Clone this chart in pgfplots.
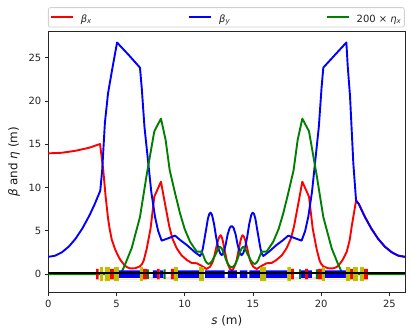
\documentclass[border=0pt]{standalone}
\usepackage{pgfplots}
\pgfplotsset{compat=1.18}
\usepackage{fontspec}
\setmainfont{DejaVu Sans}
\newcommand{\sub}[1]{\raisebox{-1.5bp}{\fontsize{7}{7}\selectfont\textit{#1}}}
\begin{document}
\begin{tikzpicture}[x=1bp,y=1bp]
\useasboundingbox (0,0) rectangle (412,335);
\begin{axis}[
  at={(48.3bp,42.3bp)}, anchor=south west, scale only axis,
  width=357bp, height=261.7bp,
  xmin=0, xmax=26.17, ymin=-2.14, ymax=28.08,
  xtick={0,5,10,15,20,25}, ytick={0,5,10,15,20,25},
  tick align=outside, tick style={black!85,line width=0.8bp}, tick pos=left,
  major tick length=3.5bp,
  axis line style={black!85,line width=0.9bp},
  /pgf/number format/assume math mode=true,
  ticklabel style={font=\fontsize{10}{12}\selectfont, text=black!85},
  xticklabel style={yshift=-0.5bp},
  xlabel={\textit{s} (m)}, ylabel={\textit{β} and \textit{η} (m)},
  label style={font=\fontsize{12}{14}\selectfont, text=black!90},
  xlabel style={at={(axis description cs:0.5,-0.075)},anchor=north},
  ylabel style={at={(axis description cs:-0.096,0.5)},anchor=center},
  legend style={at={(0bp,261.7bp)}, anchor=south west, yshift=3.5bp, xshift=-0.3bp,
    draw=black!18, rounded corners=2bp, fill=white, line width=0.8bp,
    inner xsep=1.5bp, inner ysep=1.5bp,
    font=\fontsize{10}{12}\selectfont, text=black!85,
    legend columns=3, legend cell align=left,
    /tikz/column 2/.style={column sep=95bp},
    /tikz/column 4/.style={column sep=94bp}},
  legend image code/.code={\draw[#1,line width=1.9bp] (0bp,0bp) -- (22bp,0bp);},
]
\addplot[red,line width=1.9bp,line join=round] coordinates {
(0,13.95)(1,14.02)(2,14.25)(3,14.6)(3.79,15.03)(3.9,13.7)(4.03,12)(4.2,9)(4.38,6.45)(4.5,5.2)(4.65,4.0)(4.89,2.9)(5.06,2.3)(5.26,1.7)(5.6,1.0)(5.8,.78)(5.99,.68)(6.2,.66)(6.4,.7)(6.72,.9)(6.88,1.2)(7.0,1.6)(7.21,2.9)(7.5,5.3)(7.77,8.95)(8.26,10.68)(8.5,8.6)(8.87,5.5)(9.1,4.1)(9.41,3)(9.75,2.2)(10.15,1.64)(10.5,1.3)(10.88,1.26)(11.25,.95)(11.6,.6)(11.85,.85)(12.0,1.25)(12.1,1.64)(12.2,2.3)(12.3,3)(12.45,3.95)(12.55,4.35)(12.64,4.5)(12.72,4.25)(12.8,3.8)(12.95,2.6)(13.08,1.6)(13.2,1.0)(13.32,.6)(13.44,.45)
(13.56,.6)(13.68,1.0)(13.8,1.6)(13.93,2.6)(14.08,3.8)(14.16,4.25)(14.24,4.5)(14.33,4.35)(14.43,3.95)(14.58,3)(14.68,2.3)(14.78,1.64)(14.88,1.25)(15.03,.85)(15.28,.6)(15.63,.95)(16.0,1.26)(16.38,1.3)(16.73,1.64)(17.13,2.2)(17.47,3)(17.78,4.1)(18.01,5.5)(18.38,8.6)(18.62,10.68)(19.11,8.95)(19.38,5.3)(19.67,2.9)(19.88,1.6)(20.0,1.2)(20.16,.9)(20.48,.7)(20.68,.66)(20.89,.68)(21.08,.78)(21.28,1.0)(21.6,1.7)(21.88,2.6)(22.1,4)(22.24,5.5)(22.4,7)(22.56,8.5)(22.77,8.08)(23.17,6.73)(23.67,5.29)(24.17,4.1)(24.67,3.18)(25.17,2.53)(25.67,2.13)(26.17,2.0)};
\addlegendentry{\kern5bp\rule[-5bp]{0pt}{16bp}\textit{β}\sub{x}}
\addplot[blue,line width=1.9bp,line join=round] coordinates {
(0,2)(0.5,2.13)(1,2.53)(1.5,3.18)(2,4.1)(2.5,5.29)(3,6.73)(3.4,8.08)(3.81,9.64)(3.95,12)(4.15,17.5)(4.38,20.9)(4.7,23.8)(5.04,26.75)(5.9,25.3)(6.72,23.85)(6.85,21.5)(7.05,17)(7.33,12.8)(7.55,9.5)(7.82,6.64)(8.05,5.0)(8.31,3.87)(8.8,4.15)(9.29,4.45)(9.7,3.9)(10.15,3.37)(10.7,2.6)(11.12,2.1)(11.22,2.35)(11.32,2.9)(11.42,3.8)(11.55,5)(11.7,6.4)(11.8,6.95)(11.9,7.1)(12.0,6.85)(12.15,5.8)(12.3,4.3)(12.46,3)(12.6,2.4)(12.71,2.2)(12.8,2.35)(12.9,2.8)(13.0,3.4)(13.15,4.6)(13.3,5.35)(13.44,5.57)
(13.58,5.35)(13.73,4.6)(13.88,3.4)(13.98,2.8)(14.08,2.35)(14.17,2.2)(14.28,2.4)(14.42,3)(14.58,4.3)(14.73,5.8)(14.88,6.85)(14.98,7.1)(15.08,6.95)(15.18,6.4)(15.33,5)(15.46,3.8)(15.56,2.9)(15.66,2.35)(15.76,2.1)(16.18,2.6)(16.73,3.37)(17.18,3.9)(17.59,4.45)(18.08,4.15)(18.57,3.87)(18.83,5)(19.06,6.64)(19.33,9.5)(19.55,12.8)(19.83,17)(20.03,21.5)(20.16,23.85)(21.0,25.3)(21.85,26.75)(21.95,24)(22.12,20.5)(22.36,12.8)(22.56,8.5)(22.77,8.08)(23.17,6.73)(23.67,5.29)(24.17,4.1)(24.67,3.18)(25.17,2.53)(25.67,2.13)(26.17,2.0)};
\addlegendentry{\kern5bp\rule[-5bp]{0pt}{16bp}\textit{β}\sub{y}}
\addplot[black!50!green,line width=1.9bp,line join=round] coordinates {
(0,0)(5.2,0)(5.35,.2)(5.6,1)(6.11,3)(6.72,6.6)(7.21,11.45)(7.77,16.5)(8.26,17.96)(8.6,15.5)(8.9,12)(9.3,9.3)(9.66,7)(10,5.2)(10.39,3.75)(10.88,2.6)(11.25,2.6)(11.4,2.0)(11.5,1.6)(11.6,1.35)(11.73,1.18)(11.85,1.25)(12.0,1.5)(12.3,2.4)(12.45,2.95)(12.59,3.17)(12.72,2.95)(12.85,2.5)(13.0,1.8)(13.15,1.2)(13.3,.9)(13.44,.8)
(13.58,.9)(13.73,1.2)(13.88,1.8)(14.03,2.5)(14.16,2.95)(14.29,3.17)(14.43,2.95)(14.58,2.4)(14.88,1.5)(15.03,1.25)(15.15,1.18)(15.28,1.35)(15.38,1.6)(15.48,2.0)(15.63,2.6)(16.0,2.6)(16.49,3.75)(16.88,5.2)(17.22,7)(17.58,9.3)(17.98,12)(18.28,15.5)(18.62,17.96)(19.11,16.5)(19.67,11.45)(20.16,6.6)(20.77,3)(21.28,1)(21.53,.2)(21.68,0)(26.17,0)};
\addlegendentry{\kern5bp\rule[-5bp]{0pt}{16bp}200 × \textit{η}\sub{x}}
% blue magnets
\addplot[forget plot,draw=none,fill={rgb,1:red,0;green,0;blue,1}] coordinates {
(5.18,-.44)(5.18,.44)(6.72,.44)(6.72,-.44)
(7.67,-.44)(7.67,.44)(7.97,.44)(7.97,-.44)
(8.16,-.44)(8.16,.44)(8.43,.44)(8.43,-.44)
(9.5,-.44)(9.5,.44)(11.05,.44)(11.05,-.44)
(11.49,-.44)(11.49,.44)(12.93,.44)(12.93,-.44)
(13.17,-.44)(13.17,.44)(13.83,.44)(13.83,-.44)
(14.05,-.44)(14.05,.44)(14.59,.44)(14.59,-.44)
(14.74,-.44)(14.74,.44)(15.52,.44)(15.52,-.44)
(15.96,-.44)(15.96,.44)(17.52,.44)(17.52,-.44)
(18.52,-.44)(18.52,.44)(18.82,.44)(18.82,-.44)
(19.04,-.44)(19.04,.44)(19.33,.44)(19.33,-.44)
(20.28,-.44)(20.28,.44)(21.82,.44)(21.82,-.44)} --cycle;
% red magnets
\addplot[forget plot,draw=none,fill=red] coordinates {
(3.5,-.6)(3.5,.6)(3.69,.6)(3.69,-.6)
(4.52,-.6)(4.52,.6)(4.81,.6)(4.81,-.6)
(6.94,-.6)(6.94,.6)(7.23,.6)(7.23,-.6)
(7.97,-.6)(7.97,.6)(8.16,.6)(8.16,-.6)
(8.99,-.6)(8.99,.6)(9.21,.6)(9.21,-.6)
(17.79,-.6)(17.79,.6)(18.01,.6)(18.01,-.6)
(18.82,-.6)(18.82,.6)(19.04,.6)(19.04,-.6)
(19.77,-.6)(19.77,.6)(20.06,.6)(20.06,-.6)
(22.12,-.6)(22.12,.6)(22.34,.6)(22.34,-.6)
(23.14,-.6)(23.14,.6)(23.43,.6)(23.43,-.6)} --cycle;
% yellow magnets
\addplot[forget plot,draw=none,fill={rgb,1:red,.75;green,.75;blue,0}] coordinates {
(3.79,-.8)(3.79,.8)(4.0,.8)(4.0,-.8)
(4.15,-.8)(4.15,.8)(4.52,.8)(4.52,-.8)
(4.81,-.8)(4.81,.8)(5.18,.8)(5.18,-.8)
(6.72,-.8)(6.72,.8)(6.94,.8)(6.94,-.8)
(9.21,-.8)(9.21,.8)(9.5,.8)(9.5,-.8)
(11.05,-.8)(11.05,.8)(11.41,.8)(11.41,-.8)
(15.52,-.8)(15.52,.8)(15.96,.8)(15.96,-.8)
(17.52,-.8)(17.52,.8)(17.79,.8)(17.79,-.8)
(20.06,-.8)(20.06,.8)(20.28,.8)(20.28,-.8)
(21.82,-.8)(21.82,.8)(22.12,.8)(22.12,-.8)
(22.34,-.8)(22.34,.8)(22.7,.8)(22.7,-.8)
(22.85,-.8)(22.85,.8)(23.14,.8)(23.14,-.8)} --cycle;
% green magnets
\addplot[forget plot,draw=none,fill=black!50!green] coordinates {
(7.23,-.55)(7.23,.55)(7.38,.55)(7.38,-.55)
(8.45,-.55)(8.45,.55)(8.6,.55)(8.6,-.55)
(18.38,-.55)(18.38,.55)(18.52,.55)(18.52,-.55)
(19.62,-.55)(19.62,.55)(19.77,.55)(19.77,-.55)} --cycle;
\addplot[forget plot,black,line width=1.6bp] coordinates {(0,0.12)(26.17,0.12)};
\end{axis}
\end{tikzpicture}
\end{document}
